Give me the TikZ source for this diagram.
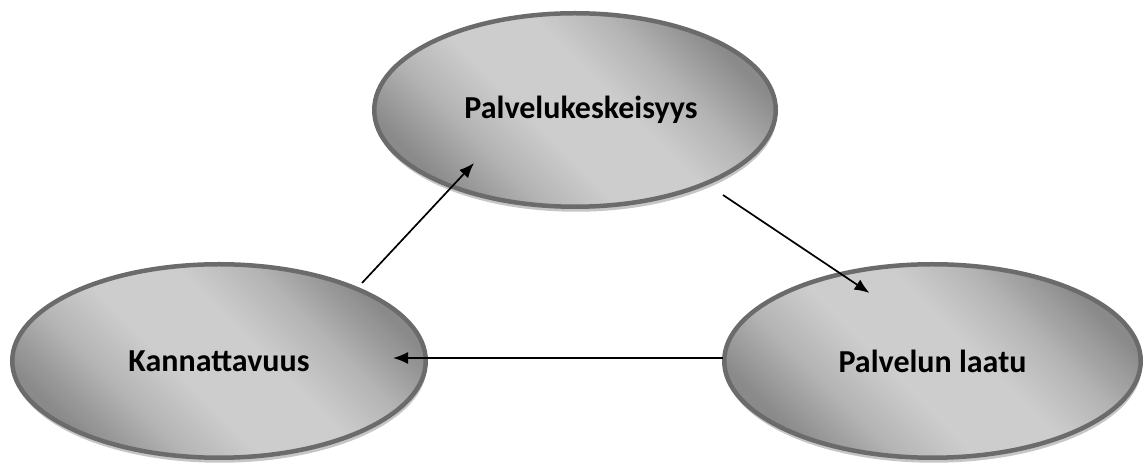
\documentclass[tikz,border=0pt]{standalone}
\usepackage{fontspec}
\setmainfont{Carlito}
\usetikzlibrary{shapes.geometric,shadows,arrows.meta,calc}
\definecolor{rimgray}{HTML}{6B6B6B}
\definecolor{darkfill}{HTML}{8A8A8A}
\definecolor{midfill}{HTML}{B4B4B4}
\definecolor{lightfill}{HTML}{CDCDCD}
\definecolor{shadowgray}{HTML}{C6C6C6}
% diagonal band: dark corners, broad light middle
\pgfdeclareverticalshading{bubbleshade}{100bp}{%
  color(0bp)=(darkfill); color(25bp)=(darkfill); color(35bp)=(midfill);
  color(44bp)=(lightfill); color(56bp)=(lightfill); color(65bp)=(midfill);
  color(75bp)=(darkfill); color(100bp)=(darkfill)}
\tikzset{
  bubble/.style={ellipse, inner sep=0pt, draw=rimgray, line width=4.5pt,
    shade, shading=bubbleshade, shading angle=-45,
    drop shadow={shadow xshift=1pt, shadow yshift=-5pt, fill=shadowgray, opacity=1},
    font=\fontsize{32}{38}\selectfont\bfseries},
  conn/.style={line width=1.7pt, -{Latex[length=15pt,width=12pt]}}
}
\begin{document}
\begin{tikzpicture}[x=1pt,y=1pt]
  \useasboundingbox (0,0) rectangle (1148,465);
  % the three topics
  \node[bubble, minimum width=401.5pt, minimum height=193.5pt] (p) at (575,355) {\hspace*{12pt}Palvelukeskeisyys};
  \node[bubble, minimum width=413.5pt, minimum height=193.5pt] (k) at (219,104) {\raisebox{-5pt}{Kannattavuus}};
  \node[bubble, minimum width=416.5pt, minimum height=193.5pt] (l) at (932.5,104) {\raisebox{-5pt}{Palvelun laatu}};
  % the cycle between them
  \draw[conn] ($(k)+(143,78)$) -- ($(p)+(-101,-53)$);
  \draw[conn] ($(p)+(148,-85)$) -- ($(l)+(-63,68)$);
  \draw[conn] ($(l)+(-209.5,3)$) -- ($(k)+(174,3)$);
\end{tikzpicture}
\end{document}
